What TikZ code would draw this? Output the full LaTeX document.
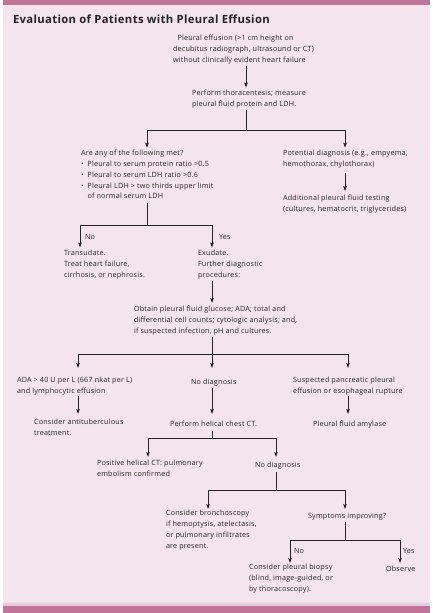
\documentclass[tikz,border=0pt]{standalone}
\usepackage{fontspec}
\setmainfont{Open Sans}[LetterSpace=3]
\usetikzlibrary{arrows.meta}
\definecolor{bgpink}{RGB}{243,228,237}
\definecolor{barpink}{RGB}{192,116,152}
\definecolor{barlight}{RGB}{233,200,218}
\definecolor{ink}{RGB}{38,34,36}
\newcommand\bulitem{\makebox[6.5pt][l]{\textbullet}}
\begin{document}
\begin{tikzpicture}[x=1pt,y=-1pt,
  txt/.style={anchor=north west,yshift=7.56pt,align=left,inner sep=0pt,outer sep=0pt,
    font=\fontsize{7.2}{10.8}\selectfont,text=ink,
    execute at begin node=\strut,execute at end node=\strut},
  titletxt/.style={anchor=base west,inner sep=0pt,outer sep=0pt,
    font=\bfseries\fontsize{11.3}{13}\selectfont,text=ink},
  line/.style={draw=ink,line width=0.7pt},
  arr/.style={line,-{Stealth[length=5pt,width=3.6pt,inset=1.2pt]},shorten >=2.5pt},
  from/.style={shorten <=1pt}]
\useasboundingbox (0,0) rectangle (433,613);
\fill[white] (0,0) rectangle (433,613);
\fill[bgpink] (3,0) rectangle (430,613);
\fill[barpink] (3,0) rectangle (430,5);
\fill[barlight] (3,603) rectangle (430,606);
\fill[barpink] (3,606) rectangle (430,613);

\node[titletxt] (title) at (13,23.3) {Evaluation of Patients with Pleural Effusion};

\node[txt] (n1) at (173,42.5) {\hspace*{4.5pt}Pleural effusion (>1 cm height on\\decubitus radiograph, ultrasound or CT)\\without clinically evident heart failure};
\node[txt] (n2) at (192,97.5) {Perform thoracentesis; measure\\pleural fluid protein and LDH.};
\node[txt] (n3) at (81,157.7) {Are any of the following met?\\
\bulitem Pleural to serum protein ratio >0.5\\
\bulitem Pleural to serum LDH ratio >0.6\\
\bulitem Pleural LDH > two thirds upper limit\\
\hspace*{6.5pt}of normal serum LDH};
\node[txt] (n4) at (283,157.7) {Potential diagnosis (e.g., empyema,\\hemothorax, chylothorax)};
\node[txt] (n5) at (283,202.5) {Additional pleural fluid testing\\(cultures, hematocrit, triglycerides)};
\node[txt] (n6) at (64,257.5) {Transudate.\\Treat heart failure,\\cirrhosis, or nephrosis.};
\node[txt] (n7) at (198,257.5) {Exudate.\\Further diagnostic\\procedures:};
\node[txt] (n8) at (134,313.5) {Obtain pleural fluid glucose; ADA; total and\\differential cell counts; cytologic analysis; and,\\if suspected infection, pH and cultures.};
\node[txt] (n9) at (17,384.5) {ADA > 40 U per L (667 nkat per L)\\and lymphocytic effusion};
\node[txt] (n10) at (34,426.5) {Consider antituberculous\\treatment.};
\node[txt] (n11) at (191,384.5) {No diagnosis};
\node[txt] (n12) at (170,426.5) {Perform helical chest CT.};
\node[txt] (n13) at (293,384.5) {Suspected pancreatic pleural\\effusion or esophageal rupture};
\node[txt] (n14) at (313,426.5) {Pleural fluid amylase};
\node[txt] (n15) at (97,467.5) {Positive helical CT: pulmonary\\embolism confirmed};
\node[txt] (n16) at (255,467.5) {No diagnosis};
\node[txt] (n17) at (166,518) {Consider bronchoscopy\\if hemoptysis, atelectasis,\\or pulmonary infiltrates\\are present.};
\node[txt] (n18) at (308,518) {Symptoms improving?};
\node[txt] (n19) at (249,571.5) {Consider pleural biopsy\\(blind, image-guided, or\\by thoracoscopy).};
\node[txt] (n20) at (386,571.5) {Observe};

\node[txt] (lno1) at (85,239.5) {No};
\node[txt] (lyes1) at (219,239.5) {Yes};
\node[txt] (lno2) at (294,553.5) {No};
\node[txt] (lyes2) at (403,553.5) {Yes};

% junctions
\coordinate (j2) at (246,130); \coordinate (j2l) at (147,130); \coordinate (j2r) at (345,130);
\coordinate (j3) at (147,225); \coordinate (j3l) at (80,225);  \coordinate (j3r) at (212,225);
\coordinate (j4) at (212,354); \coordinate (j4l) at (78,354);  \coordinate (j4r) at (348,354);
\coordinate (j5) at (212,438); \coordinate (j5l) at (148,438); \coordinate (j5r) at (276,438);
\coordinate (j6) at (276,490); \coordinate (j6l) at (208,490); \coordinate (j6r) at (345,490);
\coordinate (j7) at (345,540); \coordinate (j7l) at (290,540); \coordinate (j7r) at (400,540);

% connectors
\draw[arr,from] (n1.south -| j2) -- (n2.north -| j2);
\draw[line,from] (n2.south -| j2) -- (j2);
\draw[arr] (j2) -| (n3.north -| j2l);
\draw[arr] (j2) -| (n4.north -| j2r);
\draw[arr,from,shorten <=3pt,shorten >=4pt] (n4.south -| j2r) -- (n5.north -| j2r);

\draw[line,from] (n3.south -| j3) -- (j3);
\draw[arr] (j3) -| (n6.north -| j3l);
\draw[arr] (j3) -| (n7.north -| j3r);
\draw[arr,from,shorten >=3pt] (n7.south -| j3r) -- (n8.north -| j3r);

\draw[line,from] (n8.south -| j4) -- (j4);
\draw[arr,shorten >=9pt] (j4) -| (n9.north -| j4l);
\draw[arr,shorten >=9pt] (j4) -- (n11.north -| j4);
\draw[arr,shorten >=9pt] (j4) -| (n13.north -| j4r);
\draw[arr,shorten >=5pt] (n9.south -| j4l) -- (n10.north -| j4l);
\draw[arr,shorten >=5pt] (n11.south -| j4) -- (n12.north -| j4);
\draw[arr,shorten >=5pt] (n13.south -| j4r) -- (n14.north -| j4r);

\draw[line,from] (n12.south -| j5) -- (j5);
\draw[arr,shorten >=3pt] (j5) -| (n15.north -| j5l);
\draw[arr,shorten >=3pt] (j5) -| (n16.north -| j5r);

\draw[line,from] (n16.south -| j6) -- (j6);
\draw[arr,shorten >=1.5pt] (j6) -| (n17.north -| j6l);
\draw[arr,shorten >=1.5pt] (j6) -| (n18.north -| j6r);

\draw[line,from] (n18.south -| j7) -- (j7);
\draw[arr,shorten >=1pt] (j7) -| (n19.north -| j7l);
\draw[arr,shorten >=1pt] (j7) -| (n20.north -| j7r);
\end{tikzpicture}
\end{document}
